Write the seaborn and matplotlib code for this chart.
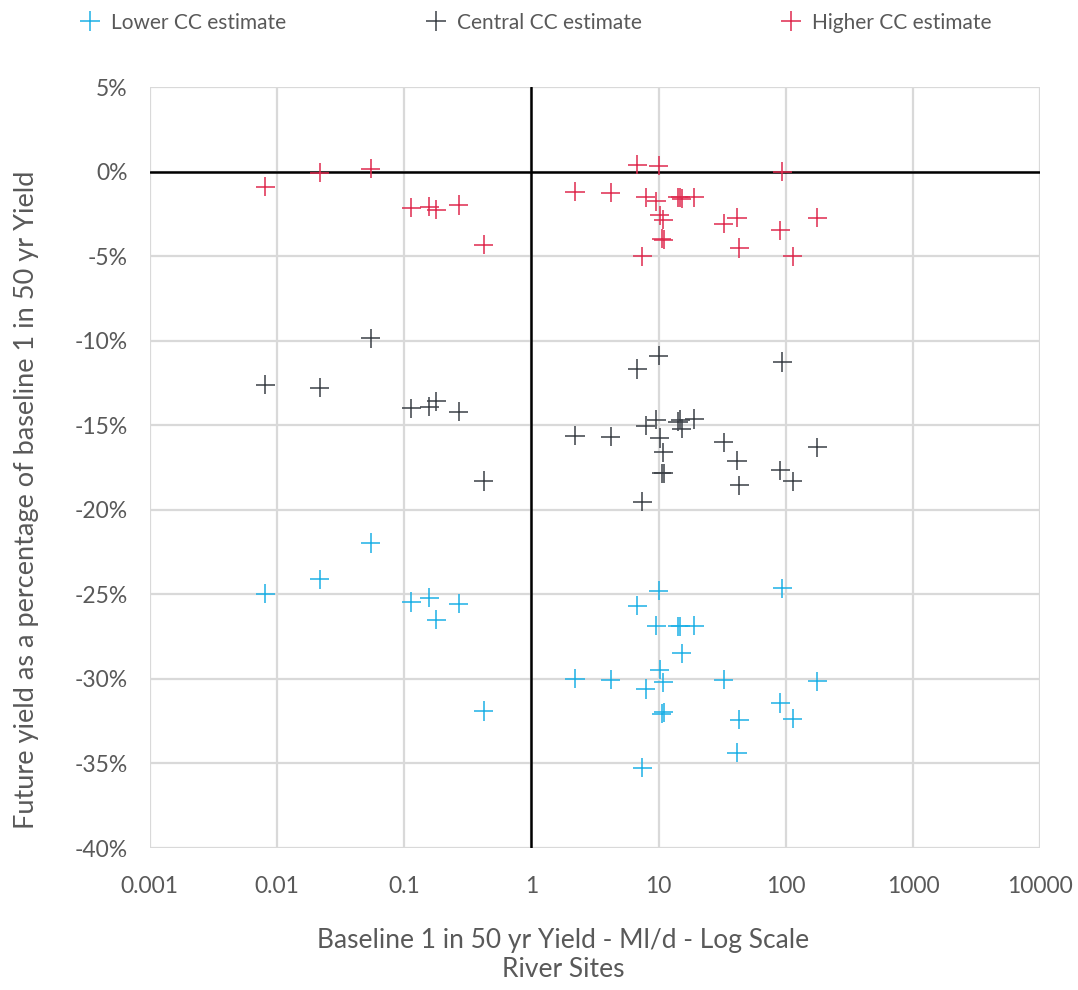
import numpy as np
import pandas as pd
import seaborn as sns
import matplotlib.pyplot as plt
from matplotlib.ticker import FixedLocator, FuncFormatter

# Baseline 1 in 50 yr yield per river site (Ml/d)
sites_x = [0.0081, 0.0217, 0.0546, 0.114, 0.157, 0.178, 0.268, 0.42,
           2.2, 4.2, 6.8, 7.45, 7.9, 9.6, 10.0, 10.2, 10.6, 10.9, 11.0,
           14.2, 14.8, 15.2, 19.1, 32.5, 41.3, 43.0, 90.3, 94.0, 113.0, 177.0]

# Future yield as % of baseline
lower = [-24.95, -24.1, -21.96, -25.45, -25.2, -26.5, -25.56, -31.9,
         -29.99, -30.05, -25.67, -35.26, -30.6, -26.85, -24.78, -29.46, -32.05, -30.2, -31.97,
         -26.9, -26.9, -28.48, -26.85, -30.05, -34.37, -32.4, -31.42, -24.65, -32.35, -30.15]
central = [-12.6, -12.77, -9.86, -14.0, -13.9, -13.58, -14.19, -18.3,
           -15.61, -15.69, -11.67, -19.53, -15.02, -14.67, -10.89, -15.75, -17.85, -16.59, -17.85,
           -14.8, -14.67, -15.2, -14.63, -16.0, -17.09, -18.56, -17.66, -11.26, -18.31, -16.3]
higher = [-0.9, -0.07, 0.18, -2.14, -2.07, -2.25, -1.98, -4.32,
          -1.19, -1.25, 0.40, -5.02, -1.53, -1.75, 0.34, -2.58, -3.97, -2.84, -4.03,
          -1.53, -1.53, -1.6, -1.53, -3.08, -2.72, -4.52, -3.47, 0.0, -5.02, -2.72]

series = ["Lower CC estimate", "Central CC estimate", "Higher CC estimate"]
colors = ["#1CB0E6", "#3B4046", "#DF2A4E"]

x_ticks = [0.001, 0.01, 0.1, 1, 10, 100, 1000, 10000]
x_labels = ["0.001", "0.01", "0.1", "1", "10", "100", "1000", "10000"]
y_ticks = list(range(5, -45, -5))

df = pd.concat([
    pd.DataFrame({"x": sites_x, "y": vals, "series": name})
    for name, vals in zip(series, [lower, central, higher])
])

sns.set_style("white")
plt.rcParams['font.family'] = ['Lato', 'DejaVu Sans']
text_col = "#595959"

fig = plt.figure(figsize=(10.78, 9.9), dpi=100)
ax = fig.add_axes([0.139, 0.1434, 0.826, 0.7687])

sns.scatterplot(data=df, x="x", y="y", hue="series", palette=colors,
                hue_order=series, marker="+", s=190, linewidth=1.1, ax=ax, zorder=3)

ax.set_xscale("log")
ax.set_xlim(0.001, 10000)
ax.set_ylim(-40, 5)
ax.xaxis.set_major_locator(FixedLocator(x_ticks))
ax.xaxis.set_minor_locator(FixedLocator([]))
ax.set_xticklabels(x_labels)
ax.yaxis.set_major_locator(FixedLocator(y_ticks))
ax.yaxis.set_major_formatter(FuncFormatter(lambda v, p: f"{v:.0f}%"))
ax.grid(True, color="#D9D9D9", linewidth=1.6)
ax.set_axisbelow(True)
for sp in ax.spines.values():
    sp.set_visible(False)
ax.tick_params(length=0, labelsize=16.5, labelcolor=text_col)
ax.tick_params(axis="x", pad=20)
ax.tick_params(axis="y", pad=16)

ax.axhline(0, color="black", linewidth=1.8, zorder=2)
ax.axvline(1, color="black", linewidth=1.8, zorder=2)

ax.set_xlabel("Baseline 1 in 50 yr Yield - Ml/d - Log Scale\nRiver Sites",
              fontsize=19, color=text_col, linespacing=1.2)
ax.xaxis.set_label_coords(0.464, -0.105)
ax.set_ylabel("Future yield as a percentage of baseline 1 in 50 yr Yield",
              fontsize=19.5, color=text_col)
ax.yaxis.set_label_coords(-0.1245, 0.457)

sns.move_legend(ax, "center", bbox_to_anchor=(0.492, 0.977), bbox_transform=fig.transFigure,
                ncol=3, frameon=False, title=None, fontsize=15, columnspacing=6.2,
                handletextpad=0.0, labelcolor=text_col)

plt.savefig("out.png", dpi=100)
